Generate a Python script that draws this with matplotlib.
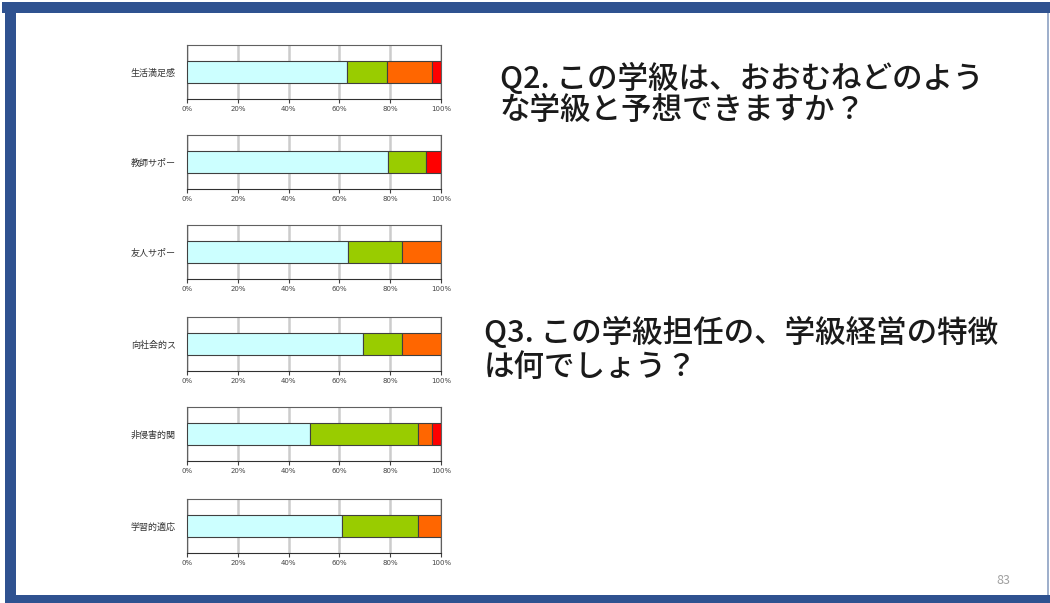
import matplotlib
matplotlib.use('Agg')
from matplotlib import pyplot as plt
from matplotlib.patches import Rectangle

plt.rcParams['font.family'] = ['Noto Sans CJK JP', 'DejaVu Sans']

labels = ['生活満足感', '教師サポー', '友人サポー', '向社会的ス', '非侵害的関', '学習的適応']
# shares in % : cyan, green, orange, red
s1 = [63.0, 79.0, 63.5, 69.4, 48.4, 60.9]
s2 = [15.7, 15.0, 21.3, 15.4, 42.7, 30.2]
s3 = [17.8, 0.0, 15.2, 15.2, 5.5, 8.9]
s4 = [3.5, 6.0, 0.0, 0.0, 3.4, 0.0]
colors = ['#ccffff', '#99cc00', '#ff6600', '#ff0000']
ticks = [0, 20, 40, 60, 80, 100]
tick_labels = ['0%', '20%', '40%', '60%', '80%', '100%']

W, H = 1050, 603
fig = plt.figure(figsize=(W / 100, H / 100), dpi=100)
fig.patch.set_facecolor('white')

# slide frame
blue = '#2f5290'
def px_rect(x0, y0, x1, y1, color):
    fig.patches.append(Rectangle((x0 / W, 1 - y1 / H), (x1 - x0) / W, (y1 - y0) / H,
                                 transform=fig.transFigure, facecolor=color,
                                 edgecolor='none', zorder=0))
px_rect(2, 2, W, 13, blue)
px_rect(5, 2, 16, H, blue)
px_rect(5, 595, W, H, blue)
px_rect(1047, 13, 1049, 595, '#9fb0cc')

tops = [45, 135, 225, 317, 407, 499]
ax_left, ax_right, ax_h = 187, 441, 54

for i, top in enumerate(tops):
    ax = fig.add_axes([ax_left / W, 1 - (top + ax_h) / H, (ax_right - ax_left) / W, ax_h / H])
    left = 0
    for vals, c in zip([s1, s2, s3, s4], colors):
        v = vals[i]
        if v > 0:
            ax.barh(0, v, left=left, height=0.78, color=c, edgecolor='#404040',
                    linewidth=0.8, zorder=3)
        left += v
    ax.set_xlim(0, 100)
    ax.set_ylim(-1, 1)
    ax.set_xticks(ticks)
    ax.set_xticklabels(tick_labels, fontsize=5, color='#444444', family='DejaVu Sans')
    ax.set_yticks([0])
    ax.set_yticklabels([labels[i]], fontsize=6.5, color='#333333')
    ax.tick_params(axis='y', length=0, pad=8)
    ax.tick_params(axis='x', length=3, width=0.8, color='#404040', pad=2)
    ax.grid(axis='x', color='#cccccc', linewidth=1.8, zorder=0)
    for sp in ax.spines.values():
        sp.set_color('#606060')
        sp.set_linewidth(0.8)
    ax.spines['bottom'].set_color('#303030')

txt = '#1a1a1a'
fs = 22
fig.text(500 / W, 1 - 79 / H, 'Q2. この学級は、おおむねどのよう', fontsize=fs, color=txt,
         va='center', ha='left', fontweight='medium')
fig.text(500 / W, 1 - 111 / H, 'な学級と予想できますか？', fontsize=fs, color=txt,
         va='center', ha='left', fontweight='medium')
fig.text(484 / W, 1 - 333 / H, 'Q3. この学級担任の、学級経営の特徴', fontsize=fs, color=txt,
         va='center', ha='left', fontweight='medium')
fig.text(484 / W, 1 - 367 / H, 'は何でしょう？', fontsize=fs, color=txt,
         va='center', ha='left', fontweight='medium')
fig.text(1003 / W, 1 - 580 / H, '83', fontsize=9, color='#a0a0a0', va='center', ha='center')

fig.savefig('out.png', dpi=100, facecolor='white')
